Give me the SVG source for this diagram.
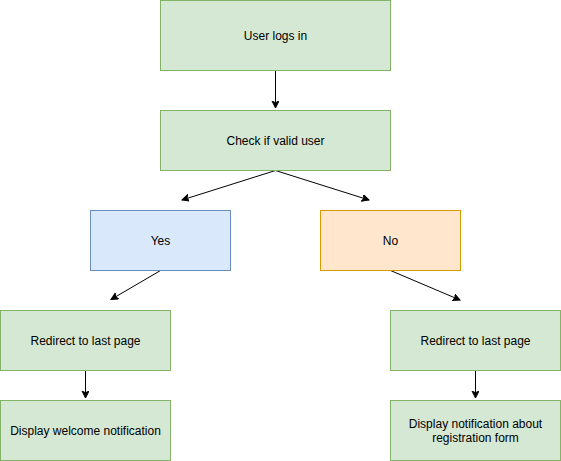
<svg xmlns="http://www.w3.org/2000/svg" width="561" height="461" viewBox="0 0 561 461">
<style>
.g{fill:#d5e8d4;stroke:#82b366;stroke-width:1}
.b{fill:#dae8fc;stroke:#6c8ebf;stroke-width:1}
.o{fill:#ffe6cc;stroke:#d79b00;stroke-width:1}
text{font-family:"Liberation Sans",Arial,sans-serif;font-size:12px;fill:#000;text-anchor:middle;dominant-baseline:central}
.e{fill:none;stroke:#000;stroke-width:1;marker-end:url(#ah)}
</style>
<defs>
<marker id="ah" markerWidth="10" markerHeight="10" refX="7" refY="3.5" orient="auto" markerUnits="userSpaceOnUse">
<path d="M0,0 L7,3.5 L0,7 L1.75,3.5 Z" fill="#000" stroke="#000" stroke-width="1"/>
</marker>
</defs>
<g id="connectors">
<line class="e" x1="275.5" y1="70" x2="275.5" y2="108"/>
<line class="e" x1="275.5" y1="170.5" x2="182" y2="200"/>
<line class="e" x1="275.5" y1="170.5" x2="369" y2="200"/>
<line class="e" x1="160.5" y1="270.5" x2="111" y2="299.5"/>
<line class="e" x1="390.5" y1="270.5" x2="460" y2="300"/>
<line class="e" x1="85.5" y1="370" x2="85.5" y2="398"/>
<line class="e" x1="475.5" y1="370" x2="475.5" y2="398"/>
</g>
<g id="n1"><rect class="g" x="160.5" y="0.5" width="230" height="70"/><text x="275.5" y="36">User logs in</text></g>
<g id="n2"><rect class="g" x="160.5" y="110.5" width="230" height="60"/><text x="275.5" y="141">Check if valid user</text></g>
<g id="n3"><rect class="b" x="90.5" y="210.5" width="140" height="60"/><text x="160.5" y="241">Yes</text></g>
<g id="n4"><rect class="o" x="320.5" y="210.5" width="140" height="60"/><text x="390.5" y="241">No</text></g>
<g id="n5"><rect class="g" x="0.5" y="310.5" width="170" height="60"/><text x="85.5" y="341">Redirect to last page</text></g>
<g id="n6"><rect class="g" x="0.5" y="400.5" width="170" height="60"/><text x="85.5" y="431">Display welcome notification</text></g>
<g id="n7"><rect class="g" x="390.5" y="310.5" width="170" height="60"/><text x="475.5" y="341">Redirect to last page</text></g>
<g id="n8"><rect class="g" x="390.5" y="400.5" width="170" height="60"/><text x="475.5" y="424">Display notification about</text><text x="475.5" y="438">registration form</text></g>
</svg>
